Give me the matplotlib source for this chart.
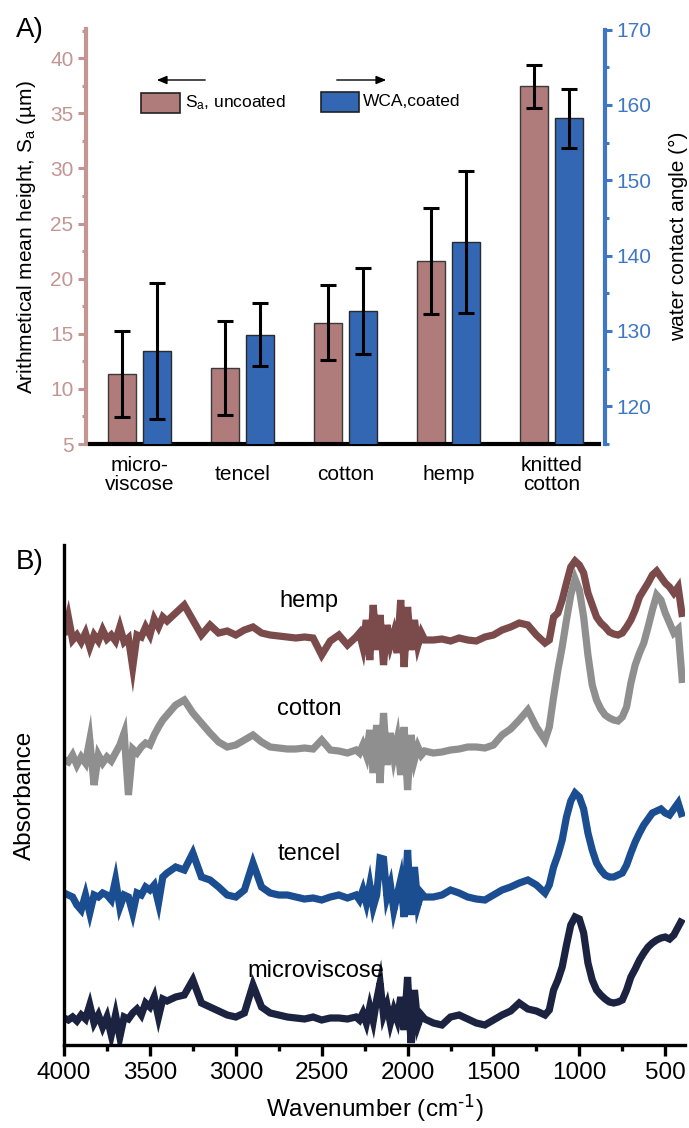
import matplotlib
matplotlib.use("Agg")
import matplotlib.pyplot as plt
from matplotlib.patches import Rectangle, FancyArrowPatch
from matplotlib.ticker import MultipleLocator

plt.rcParams['font.family'] = ['Liberation Sans', 'DejaVu Sans']
plt.rcParams['mathtext.default'] = 'regular'

# ---------------- data: panel A ----------------
categories = ["micro-\nviscose", "tencel", "cotton", "hemp", "knitted\ncotton"]
sa_mean = [11.35, 11.9, 16.0, 21.6, 37.45]
sa_err = [3.9, 4.3, 3.4, 4.8, 1.95]
wca_mean = [127.3, 129.5, 132.6, 141.8, 158.2]
wca_err = [9.0, 4.2, 5.7, 9.4, 3.9]

# ---------------- data: panel B (FTIR) ----------------
wavenumber = [
    4000, 3975, 3950, 3925, 3900, 3875, 3850, 3825, 3800, 3775, 3750, 3725, 3700,
    3675, 3650, 3625, 3600, 3575, 3550, 3525, 3500, 3475, 3450, 3425, 3400,
    3350, 3300, 3250, 3200, 3150, 3100, 3050, 3000, 2950, 2900, 2850, 2800, 2750,
    2700, 2650, 2600, 2550, 2500, 2450, 2400, 2350,
    2300, 2280, 2260, 2240, 2220, 2200, 2180, 2160, 2140, 2120, 2100, 2080, 2060,
    2040, 2020, 2000, 1980, 1960, 1940, 1920, 1900,
    1850, 1800, 1750, 1700, 1650, 1600, 1550, 1500, 1450, 1400, 1350, 1300, 1250,
    1200, 1175, 1150, 1125, 1100, 1075, 1050, 1025, 1000, 975, 950, 925, 900,
    875, 850, 825, 800, 775, 750, 725, 700, 675, 650, 625, 600, 575, 550, 525,
    500, 475, 450, 425, 400,
]
hemp = [
    410, 428, 405, 410, 403, 412, 398, 410, 404, 415, 406, 410, 404,
    418, 403, 407, 378, 410, 408, 418, 410, 426, 418, 428, 424,
    432, 440, 425, 410, 420, 412, 414, 410, 415, 418, 412, 410, 409,
    408, 407, 408, 407, 390, 404, 410, 400,
    408, 412, 398, 425, 385, 440, 395, 430, 380, 420, 400, 412, 392,
    445, 378, 438, 395, 425, 400, 412, 405,
    405, 406, 404, 407, 405, 404, 408, 410, 415, 418, 422, 420, 410,
    402, 405, 428, 432, 445, 462, 478, 484, 480, 472, 452, 440, 428,
    422, 418, 413, 411, 410, 412, 418, 425, 435, 448, 455, 462, 470, 474, 468,
    462, 458, 452, 458, 428,
]
cotton = [
    285, 283, 290, 280, 288, 282, 305, 260, 290, 282, 288, 284, 292,
    300, 312, 250, 296, 292, 298, 302, 300, 310, 318, 325, 330,
    340, 345, 332, 322, 312, 303, 298, 300, 305, 310, 303, 298, 297,
    296, 296, 297, 296, 305, 295, 294, 292,
    295, 292, 300, 290, 315, 272, 320, 262, 332, 280, 312, 288, 305,
    270, 318, 255, 310, 285, 298, 290, 294,
    292, 293, 295, 296, 298, 298, 297, 300, 310, 316, 325, 335, 318,
    305, 318, 348, 375, 398, 425, 450, 466, 455, 428, 390, 360, 345,
    336, 330, 327, 325, 324, 328, 338, 362, 380, 392, 402, 418, 435, 450, 445,
    432, 422, 412, 416, 362,
]
tencel = [
    152, 150, 148, 140, 135, 150, 132, 150, 148, 152, 150, 145, 165,
    138, 150, 148, 132, 152, 150, 158, 155, 160, 142, 168, 172,
    178, 175, 192, 168, 165, 158, 150, 148, 155, 182, 158, 152, 150,
    150, 148, 146, 147, 145, 148, 150, 147,
    150, 145, 155, 142, 160, 138, 150, 187, 186, 148, 160, 135, 150,
    165, 128, 195, 130, 178, 140, 152, 148,
    148, 150, 155, 152, 148, 146, 145, 150, 155, 158, 162, 165, 160,
    152, 160, 178, 190, 205, 228, 244, 252, 248, 236, 212, 195, 182,
    175, 170, 168, 168, 170, 172, 180, 192, 203, 212, 220, 226, 232, 234, 236,
    232, 230, 236, 242, 228,
]
microviscose = [
    27, 25, 28, 24, 30, 26, 40, 22, 30, 18, 28, 10, 30,
    8, 28, 26, 32, 36, 30, 42, 38, 48, 28, 46, 44,
    48, 50, 65, 42, 38, 34, 30, 28, 32, 60, 38, 32, 30,
    28, 27, 26, 28, 25, 27, 27, 26,
    28, 25, 32, 22, 38, 24, 45, 62, 30, 40, 22, 35, 25,
    48, 15, 68, 2, 55, 20, 30, 26,
    22, 20, 28, 30, 26, 22, 20, 25, 30, 34, 42, 36, 34,
    30, 35, 55, 65, 78, 100, 120, 128, 126, 112, 82, 65, 55,
    50, 46, 43, 42, 43, 45, 55, 68, 76, 85, 92, 98, 102, 105, 107,
    108, 106, 110, 118, 126,
]
spectrum_names = ["hemp", "cotton", "tencel", "microviscose"]
spectrum_values = [hemp, cotton, tencel, microviscose]
spectrum_colors = ["#7b4a4b", "#8f8f8f", "#1b4d91", "#1b2341"]
label_wavenumber = [2573, 2573, 2573, 2532]
label_height = [444, 336, 191, 74]

# ---------------- figure ----------------
W, H = 689, 1128
fig = plt.figure(figsize=(W / 100, H / 100), dpi=100)


def fx(px):
    return px / W


def fy(py):
    return 1 - py / H


PINK = "#c39593"
BROWN = "#b07c7b"
BLUE = "#3366b3"
RBLUE = "#3f77c6"

# ---- panel A ----
ax1 = fig.add_axes([fx(86), fy(444), (605 - 86) / W, (444 - 29.5) / H])
ax1b = ax1.twinx()
x = list(range(len(categories)))
off, bw = 0.17, 0.265
ax1.bar([i - off for i in x], sa_mean, width=bw, bottom=0, color=BROWN,
        edgecolor="#3a3a3a", linewidth=1.0, zorder=2)
ax1.errorbar([i - off for i in x], sa_mean, yerr=sa_err, fmt="none",
             ecolor="black", elinewidth=2.2, capsize=5.5, capthick=2.2, zorder=3)
ax1b.bar([i + off for i in x], wca_mean, width=bw, bottom=0, color=BLUE,
         edgecolor="#2a2a2a", linewidth=1.0, zorder=2)
ax1b.errorbar([i + off for i in x], wca_mean, yerr=wca_err, fmt="none",
              ecolor="black", elinewidth=2.2, capsize=5.5, capthick=2.2, zorder=3)

ax1.set_xlim(-0.52, 4.52)
ax1.set_ylim(5, 42.6)
ax1b.set_ylim(115, 170)

ax1.set_xticks(x)
ax1.set_xticklabels(categories, fontsize=15, va="center", linespacing=1.0)
ax1.tick_params(axis="x", length=0, pad=22)

ax1.yaxis.set_major_locator(MultipleLocator(5))
ax1.yaxis.set_minor_locator(MultipleLocator(2.5))
ax1.tick_params(axis="y", which="major", colors=PINK, labelcolor=PINK,
                labelsize=15, length=6, width=2.2, pad=3)
ax1.tick_params(axis="y", which="minor", colors=PINK, length=3, width=2.2)
ax1b.yaxis.set_major_locator(MultipleLocator(10))
ax1b.yaxis.set_minor_locator(MultipleLocator(5))
ax1b.tick_params(axis="y", which="major", colors=RBLUE, labelcolor=RBLUE,
                 labelsize=15, length=5, width=2.2, pad=3)
ax1b.tick_params(axis="y", which="minor", colors=RBLUE, length=3, width=2.2)

for a in (ax1, ax1b):
    a.spines["top"].set_visible(False)
ax1.spines["right"].set_visible(False)
ax1b.spines["left"].set_visible(False)
ax1b.spines["bottom"].set_visible(False)
ax1.spines["left"].set_color(PINK)
ax1.spines["left"].set_linewidth(3)
ax1b.spines["right"].set_color(RBLUE)
ax1b.spines["right"].set_linewidth(3)
ax1.spines["bottom"].set_color("black")
ax1.spines["bottom"].set_linewidth(3)
ax1.spines["bottom"].set_bounds(-0.48, 4.46)

ax1.set_ylabel("Arithmetical mean height, S$_a$ (µm)", fontsize=15, labelpad=9)
ax1b.set_ylabel("water contact angle (°)", fontsize=15, labelpad=13)

# legend (manual)
fig.add_artist(Rectangle((fx(141), fy(113)), 39 / W, 20 / H, transform=fig.transFigure,
                         facecolor=BROWN, edgecolor="#222222", linewidth=1.2))
fig.text(fx(185), fy(103), "S$_a$, uncoated", fontsize=12.5, va="center", ha="left")
fig.add_artist(Rectangle((fx(321), fy(112)), 38 / W, 20 / H, transform=fig.transFigure,
                         facecolor=BLUE, edgecolor="#222222", linewidth=1.2))
fig.text(fx(363), fy(102), "WCA,coated", fontsize=12.5, va="center", ha="left")
fig.add_artist(FancyArrowPatch(
    (fx(208), fy(80)), (fx(154), fy(80)), transform=fig.transFigure,
    arrowstyle="-|>,head_length=6,head_width=2.5", color="black", linewidth=1.0))
fig.add_artist(FancyArrowPatch(
    (fx(334), fy(80)), (fx(389), fy(80)), transform=fig.transFigure,
    arrowstyle="-|>,head_length=6,head_width=2.5", color="black", linewidth=1.0))

fig.text(fx(30), fy(30), "A)", fontsize=20, ha="center", va="center")

# ---- panel B ----
ax2 = fig.add_axes([fx(64), fy(1045), (685 - 64) / W, (1045 - 545) / H])
for name, vals, col, lx, ly in zip(spectrum_names, spectrum_values, spectrum_colors,
                                    label_wavenumber, label_height):
    ax2.plot(wavenumber, vals, color=col, linewidth=5.2, solid_joinstyle="miter",
             solid_capstyle="butt")
    ax2.text(lx, ly, name, fontsize=17, ha="center", va="center")

ax2.set_xlim(4000, 385)
ax2.set_ylim(0, 500)
ax2.set_yticks([])
ax2.spines["top"].set_visible(False)
ax2.spines["right"].set_visible(False)
ax2.spines["left"].set_linewidth(2.4)
ax2.spines["bottom"].set_linewidth(2.4)
ax2.xaxis.set_major_locator(MultipleLocator(500))
ax2.xaxis.set_minor_locator(MultipleLocator(250))
ax2.tick_params(axis="x", which="major", length=8, width=2.4, labelsize=17.5, pad=4)
ax2.tick_params(axis="x", which="minor", length=4.5, width=2.4)
ax2.set_xlabel(r"Wavenumber (cm$^{\text{-1}}$)", fontsize=17.5, labelpad=6)
ax2.set_ylabel("Absorbance", fontsize=17.5, labelpad=20)

fig.text(fx(30), fy(562), "B)", fontsize=20, ha="center", va="center")

fig.savefig("out.png", dpi=100, facecolor="white")
